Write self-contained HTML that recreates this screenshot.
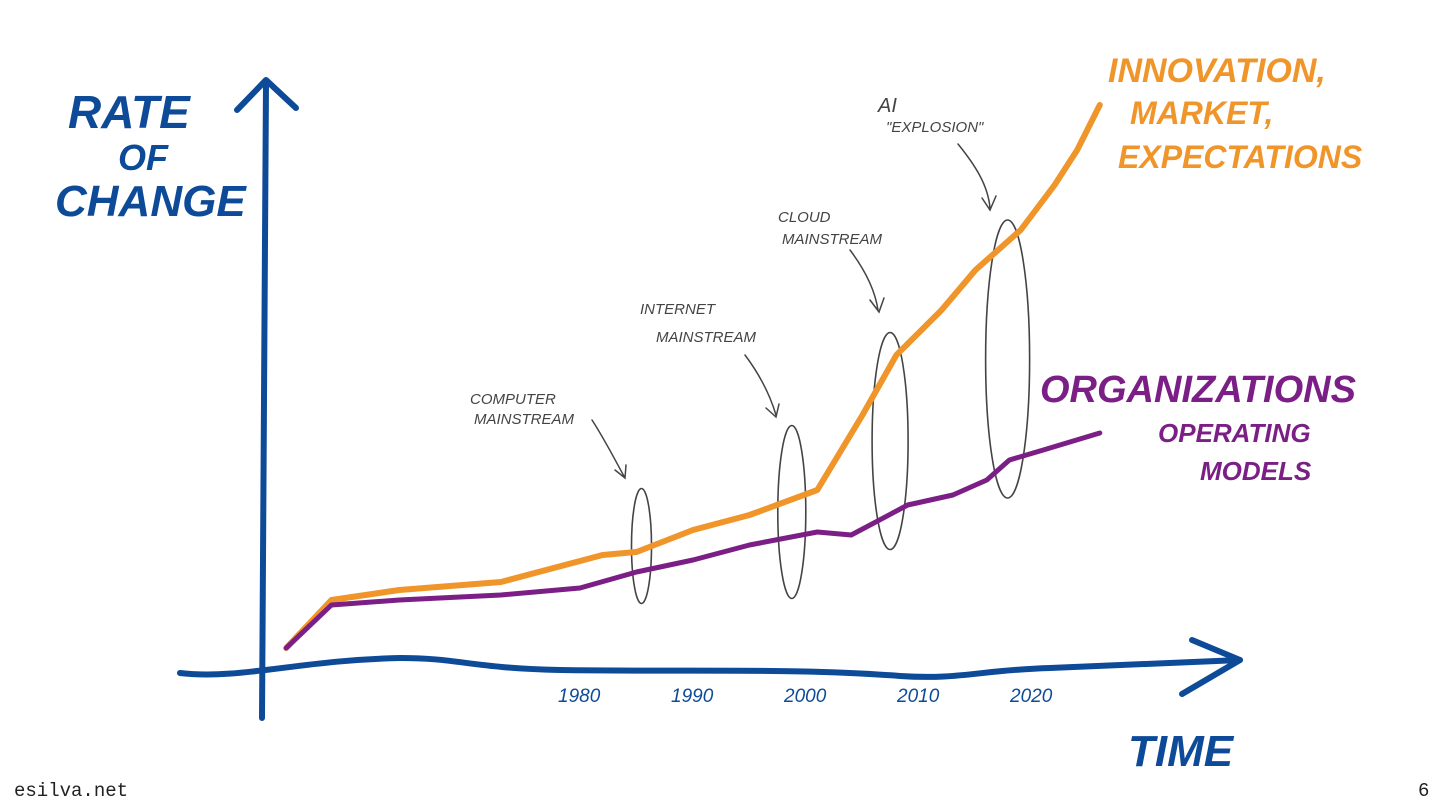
<!DOCTYPE html>
<html><head><meta charset="utf-8">
<style>
html,body{margin:0;padding:0;background:#fff;}
svg{display:block;}
.hand{font-family:"Liberation Sans",sans-serif;font-style:italic;}
</style></head>
<body>
<svg width="1440" height="810" viewBox="0 0 1440 810">
  <g id="axes">
    <path d="M262,718 C264,600 266,400 266,82" stroke="#0d4a97" stroke-width="6" fill="none" stroke-linecap="round"/>
    <path d="M237,110 L266,80 L296,108" stroke="#0d4a97" stroke-width="6" fill="none" stroke-linecap="round" stroke-linejoin="round"/>
    <path d="M180,673 C240,680 300,660 400,658 C460,658 470,668 560,670 C700,672 800,668 900,676 C960,680 980,670 1050,668 C1130,665 1200,662 1240,660" stroke="#0d4a97" stroke-width="6" fill="none" stroke-linecap="round"/>
    <path d="M1192,640 L1240,660 L1182,694" stroke="#0d4a97" stroke-width="6" fill="none" stroke-linecap="round" stroke-linejoin="round"/>
  </g>
  <g class="hand" fill="#0d4a97" font-weight="bold">
    <text x="68" y="128" font-size="46">RATE</text>
    <text x="118" y="170" font-size="36">OF</text>
    <text x="55" y="216" font-size="44">CHANGE</text>
    <text x="1128" y="766" font-size="44">TIME</text>
  </g>
  <g id="ticks" class="hand" fill="#0d4a97" font-size="19"></g>
  <g id="ellipses" fill="none" stroke="#444" stroke-width="1.6"></g>
  <g class="hand" fill="#444" font-size="15">
    <text x="470" y="404">COMPUTER</text>
    <text x="474" y="424">MAINSTREAM</text>
    <text x="640" y="314">INTERNET</text>
    <text x="656" y="342">MAINSTREAM</text>
    <text x="778" y="222">CLOUD</text>
    <text x="782" y="244">MAINSTREAM</text>
    <text x="878" y="112" font-size="20">AI</text>
    <text x="886" y="132">"EXPLOSION"</text>
  </g>
  <g fill="none" stroke="#444" stroke-width="1.5" stroke-linecap="round">
    <path d="M592,420 C605,440 615,460 625,478 M615,470 L625,478 L626,465"/>
    <path d="M745,355 C760,375 770,395 776,415 M766,408 L776,417 L779,404"/>
    <path d="M850,250 C865,270 875,290 878,310 M870,300 L879,312 L884,298"/>
    <path d="M958,144 C975,165 988,185 990,208 M982,198 L990,210 L996,196"/>
  </g>
  <path id="orange-line" fill="none" stroke="#f0952a" stroke-width="6" stroke-linecap="round" stroke-linejoin="round"/>
  <path id="purple-line" fill="none" stroke="#7b1f86" stroke-width="5" stroke-linecap="round" stroke-linejoin="round"/>
  <g class="hand" font-weight="bold">
    <text x="1108" y="82" font-size="34" fill="#f0952a">INNOVATION,</text>
    <text x="1130" y="124" font-size="32" fill="#f0952a">MARKET,</text>
    <text x="1118" y="168" font-size="32" fill="#f0952a">EXPECTATIONS</text>
    <text x="1040" y="402" font-size="38" fill="#7b1f86">ORGANIZATIONS</text>
    <text x="1158" y="442" font-size="26" fill="#7b1f86">OPERATING</text>
    <text x="1200" y="480" font-size="26" fill="#7b1f86">MODELS</text>
  </g>
  <text x="14" y="796" font-family="Liberation Mono, monospace" font-size="19" fill="#222">esilva.net</text>
  <text x="1418" y="796" font-family="Liberation Mono, monospace" font-size="19" fill="#222">6</text>
</svg>
<script>
const tickYears = [1980, 1990, 2000, 2010, 2020];
const tickLabels = ["1980", "1990", "2000", "2010", "2020"];
const orangeYears = [1954, 1958, 1964, 1973, 1982, 1985, 1990, 1995, 2001, 2005, 2008, 2012, 2015, 2019, 2022, 2024, 2026];
const orangeValues = [22, 70, 80, 88, 115, 118, 140, 155, 180, 255, 315, 360, 400, 440, 485, 520, 565];
const purpleYears = [1954, 1958, 1964, 1973, 1980, 1985, 1990, 1995, 2001, 2004, 2009, 2013, 2016, 2018, 2021, 2026];
const purpleValues = [22, 65, 70, 75, 82, 98, 110, 125, 138, 135, 165, 175, 190, 210, 220, 237];
const eventYears = [1985, 1998.3, 2007, 2017.4];
const eventValues = [124, 158, 229, 311];
const eventHeights = [115, 173, 217, 278];

function xScale(yr){ return 580 + (yr - 1980) * 11.3; }
function yScale(v){ return 670 - v; }
function pathFrom(xs, vs){
  return xs.map((x,i)=>(i?'L':'M')+xScale(x).toFixed(1)+','+yScale(vs[i]).toFixed(1)).join(' ');
}
document.getElementById('orange-line').setAttribute('d', pathFrom(orangeYears, orangeValues));
document.getElementById('purple-line').setAttribute('d', pathFrom(purpleYears, purpleValues));
const NS='http://www.w3.org/2000/svg';
const tg=document.getElementById('ticks');
tickYears.forEach((yr,i)=>{
  const t=document.createElementNS(NS,'text');
  t.setAttribute('x', xScale(yr)-22);
  t.setAttribute('y', 702);
  t.textContent=tickLabels[i];
  
  
  tg.appendChild(t);
});
const eg=document.getElementById('ellipses');
eventYears.forEach((yr,i)=>{
  const e=document.createElementNS(NS,'ellipse');
  const h=eventHeights[i];
  e.setAttribute('cx', xScale(yr)+5);
  e.setAttribute('cy', yScale(eventValues[i]));
  e.setAttribute('rx', 10+i*4);
  e.setAttribute('ry', h/2);
  
  
  eg.appendChild(e);
});
</script>
</body></html>
